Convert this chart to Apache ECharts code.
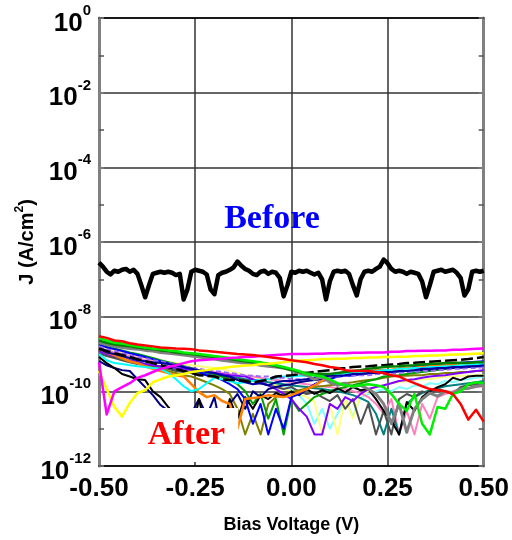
<!DOCTYPE html>
<html><head><meta charset="utf-8">
<script src="https://cdn.jsdelivr.net/npm/echarts@6/dist/echarts.min.js"></script>
<style>html,body{margin:0;padding:0;background:#fff}#c{width:512px;height:540px}</style>
</head><body><div id="c"></div>
<script>
// ---------- data ----------
const voltageBefore = [-0.50,-0.49,-0.48,-0.47,-0.46,-0.45,-0.44,-0.43,-0.42,-0.41,
-0.40,-0.39,-0.38,-0.37,-0.36,-0.35,-0.34,-0.33,-0.32,-0.31,
-0.30,-0.29,-0.28,-0.27,-0.26,-0.25,-0.24,-0.23,-0.22,-0.21,
-0.20,-0.19,-0.18,-0.17,-0.16,-0.15,-0.14,-0.13,-0.12,-0.11,
-0.10,-0.09,-0.08,-0.07,-0.06,-0.05,-0.04,-0.03,-0.02,-0.01,
0.00,0.01,0.02,0.03,0.04,0.05,0.06,0.07,0.08,0.09,
0.10,0.11,0.12,0.13,0.14,0.15,0.16,0.17,0.18,0.19,
0.20,0.21,0.22,0.23,0.24,0.25,0.26,0.27,0.28,0.29,
0.30,0.31,0.32,0.33,0.34,0.35,0.36,0.37,0.38,0.39,
0.40,0.41,0.42,0.43,0.44,0.45,0.46,0.47,0.48,0.49,
0.50];
const jBefore = [2.8e-7,2.2e-7,1.6e-7,1.35e-7,1.7e-7,1.6e-7,1.8e-7,1.9e-7,1.6e-7,1.8e-7,
1.4e-7,7e-8,3.3e-8,7e-8,1.4e-7,1.5e-7,1.6e-7,1.5e-7,1.6e-7,1.5e-7,
1.3e-7,1.4e-7,2.9e-8,5.4e-8,1.6e-7,1.8e-7,1.7e-7,1.6e-7,1.35e-7,5.4e-8,
4e-8,1.3e-7,1.5e-7,1.6e-7,1.8e-7,2.1e-7,3.0e-7,2.3e-7,1.9e-7,1.7e-7,
1.4e-7,1.3e-7,1.6e-7,1.7e-7,1.4e-7,1.6e-7,1.5e-7,1.1e-7,3.5e-8,7e-8,
1.6e-7,1.5e-7,1.7e-7,1.6e-7,1.7e-7,1.5e-7,1.35e-7,1.5e-7,1.0e-7,2.9e-8,
8.8e-8,1.6e-7,1.7e-7,1.6e-7,1.7e-7,1.4e-7,7e-8,3.7e-8,1.0e-7,1.6e-7,
1.7e-7,1.6e-7,1.9e-7,2.2e-7,3.4e-7,2.7e-7,1.9e-7,1.6e-7,1.7e-7,1.6e-7,
1.4e-7,1.6e-7,1.5e-7,1.4e-7,8.8e-8,3.3e-8,7e-8,1.6e-7,1.7e-7,1.8e-7,
1.6e-7,1.7e-7,1.8e-7,1.5e-7,1.1e-7,3.7e-8,5.4e-8,1.6e-7,1.7e-7,1.6e-7,
1.7e-7];

const voltageAfter = [-0.50,-0.48,-0.46,-0.44,-0.42,-0.40,-0.38,-0.36,-0.34,-0.32,
-0.30,-0.28,-0.26,-0.24,-0.22,-0.20,-0.18,-0.16,-0.14,-0.12,
-0.10,-0.08,-0.06,-0.04,-0.02,0.00,0.02,0.04,0.06,0.08,
0.10,0.12,0.14,0.16,0.18,0.20,0.22,0.24,0.26,0.28,
0.30,0.32,0.34,0.36,0.38,0.40,0.42,0.44,0.46,0.48,0.50];

const jRed = [3.0e-9,2.7e-9,2.3e-9,2.2e-9,1.95e-9,1.8e-9,1.7e-9,1.6e-9,1.5e-9,1.45e-9,
1.4e-9,1.38e-9,1.35e-9,1.25e-9,1.2e-9,1.15e-9,1.1e-9,1.05e-9,1.0e-9,9.7e-10,
9.4e-10,8.8e-10,8.3e-10,7.8e-10,7.3e-10,6.8e-10,6.4e-10,6.0e-10,5.4e-10,5.0e-10,
4.5e-10,4.2e-10,3.7e-10,3.5e-10,3.5e-10,3.5e-10,3.3e-10,3.1e-10,2.7e-10,2.5e-10,
2.0e-10,1.65e-10,1.37e-10,1.15e-10,1.07e-10,1.0e-10,8.5e-11,4.6e-11,1.75e-11,3.2e-11,
1.55e-11];
const jMagenta = [6.0e-10,2.4e-11,1.0e-10,1.3e-10,1.65e-10,2.3e-10,2.7e-10,3.3e-10,4.0e-10,4.5e-10,
5.0e-10,5.7e-10,6.4e-10,6.8e-10,7.0e-10,7.3e-10,7.5e-10,7.8e-10,8.0e-10,8.3e-10,
8.5e-10,8.8e-10,9.1e-10,9.4e-10,9.7e-10,1.0e-9,1.0e-9,1.0e-9,1.02e-9,1.02e-9,
1.05e-9,1.05e-9,1.05e-9,1.08e-9,1.08e-9,1.1e-9,1.1e-9,1.1e-9,1.15e-9,1.15e-9,
1.2e-9,1.2e-9,1.22e-9,1.22e-9,1.25e-9,1.25e-9,1.3e-9,1.3e-9,1.35e-9,1.38e-9,
1.4e-9];
const jYellow = [3.5e-10,1.15e-10,3.8e-11,2.1e-11,4.9e-11,9.0e-11,1.07e-10,1.75e-10,2.1e-10,2.5e-10,
2.7e-10,2.9e-10,3.3e-10,3.5e-10,3.7e-10,4.0e-10,4.2e-10,4.5e-10,4.7e-10,4.9e-10,
5.0e-10,5.4e-10,5.5e-10,5.7e-10,6.0e-10,6.4e-10,6.6e-10,6.8e-10,7.0e-10,7.3e-10,
7.3e-10,7.5e-10,7.5e-10,7.8e-10,7.8e-10,8.0e-10,8.0e-10,8.3e-10,8.3e-10,8.5e-10,
8.5e-10,8.8e-10,8.8e-10,9.1e-10,9.1e-10,9.4e-10,9.7e-10,9.7e-10,1.0e-9,1.02e-9,
1.05e-9];
const jGreen = [2.7e-9,2.3e-9,2.0e-9,1.9e-9,1.75e-9,1.6e-9,1.5e-9,1.4e-9,1.35e-9,1.25e-9,
1.2e-9,1.1e-9,1.05e-9,1.0e-9,9.4e-10,8.8e-10,8.3e-10,7.8e-10,7.3e-10,6.8e-10,
6.4e-10,6.0e-10,5.4e-10,5.0e-10,4.5e-10,4.0e-10,3.5e-10,2.9e-10,2.7e-10,2.5e-10,
2.1e-10,1.65e-10,1.45e-10,1.37e-10,1.45e-10,1.55e-10,1.45e-10,1.3e-10,8.5e-11,4.6e-11,
3.0e-11,8.5e-11,1.35e-11,7e-12,3.8e-11,3.4e-11,8.5e-11,1.0e-10,1.55e-10,1.75e-10,
1.65e-10];
const jDarkGreen = [2.3e-9,2.0e-9,1.8e-9,1.7e-9,1.6e-9,1.5e-9,1.4e-9,1.35e-9,1.25e-9,1.2e-9,
1.1e-9,1.05e-9,1.0e-9,9.4e-10,8.8e-10,8.3e-10,7.8e-10,7.3e-10,6.8e-10,6.4e-10,
6.0e-10,5.7e-10,5.4e-10,4.7e-10,4.2e-10,3.7e-10,3.3e-10,3.1e-10,2.9e-10,2.9e-10,
2.9e-10,3.1e-10,3.3e-10,3.5e-10,3.7e-10,4.0e-10,4.2e-10,4.5e-10,4.6e-10,4.7e-10,
4.9e-10,5.0e-10,5.2e-10,5.4e-10,5.5e-10,5.7e-10,5.7e-10,5.8e-10,5.8e-10,6.0e-10,
6.0e-10];
const jGrey = [2.0e-9,1.8e-9,1.6e-9,1.5e-9,1.4e-9,1.35e-9,1.25e-9,1.2e-9,1.1e-9,1.05e-9,
1.0e-9,9.4e-10,8.8e-10,8.3e-10,7.8e-10,7.3e-10,6.8e-10,6.4e-10,6.0e-10,5.7e-10,
5.4e-10,5.0e-10,4.7e-10,4.5e-10,4.2e-10,3.7e-10,3.1e-10,2.7e-10,2.1e-10,2.5e-10,
1.75e-10,1.45e-10,1.65e-10,1.3e-10,1.45e-10,1.15e-10,8.5e-11,4.6e-11,1.35e-11,4.6e-11,
8e-12,3.4e-11,6.2e-11,9.0e-11,7.4e-11,1.0e-10,9.0e-11,1.15e-10,1.2e-10,1.37e-10,
1.45e-10];
const jBlackDash = [1.4e-9,1.2e-9,1.05e-9,9.4e-10,8.3e-10,7.3e-10,6.4e-10,5.7e-10,5.0e-10,4.5e-10,
4.0e-10,3.5e-10,3.1e-10,2.7e-10,2.6e-10,2.5e-10,2.1e-10,2.0e-10,2.0e-10,1.9e-10,
1.75e-10,1.9e-10,2.1e-10,2.5e-10,2.6e-10,2.7e-10,2.9e-10,3.1e-10,3.3e-10,3.5e-10,
3.7e-10,4.0e-10,4.2e-10,4.5e-10,4.6e-10,4.7e-10,4.9e-10,5.0e-10,5.2e-10,5.4e-10,
5.7e-10,5.8e-10,6.0e-10,6.2e-10,6.4e-10,6.6e-10,6.8e-10,7.0e-10,7.3e-10,7.8e-10,
8.3e-10];
const jBlackNoisy = [8.3e-10,5.7e-10,4.2e-10,2.9e-10,2.5e-10,2.1e-10,2.0e-10,1.0e-10,7.0e-11,3.8e-11,
2.2e-11,1.15e-11,7e-12,6.2e-11,7e-12,3.4e-11,1.0e-11,6.2e-11,1.85e-11,7.0e-11,
3.4e-11,7.9e-11,6.2e-11,9.0e-11,7.4e-11,1.0e-10,7.9e-11,1.15e-10,8.5e-11,1.07e-10,
9.0e-11,1.2e-10,9.5e-11,1.3e-10,1.07e-10,1.15e-10,6.2e-11,3.0e-11,1.65e-11,7e-12,
5.2e-11,3.0e-11,7.0e-11,1.0e-10,1.3e-10,1.55e-10,2.3e-10,2.0e-10,2.5e-10,2.6e-10,
2.6e-10];
const jNavyNoisy = [6.4e-10,5.0e-10,4.2e-10,3.7e-10,3.5e-10,2.1e-10,1.3e-10,7.9e-11,4.3e-11,3.0e-11,
2.1e-11,1.0e-11,2.5e-11,6.2e-11,2.2e-11,7.0e-11,7e-12,4.6e-11,8.5e-11,3.4e-11,
1.0e-10,7.0e-11,1.15e-10,1.3e-10,1.45e-10,1.55e-10,1.75e-10,1.9e-10,2.0e-10,2.1e-10,
2.3e-10,2.5e-10,2.6e-10,2.7e-10,2.9e-10,3.0e-10,3.1e-10,3.2e-10,3.3e-10,3.4e-10,
3.5e-10,3.6e-10,3.7e-10,3.8e-10,4.0e-10,4.1e-10,4.2e-10,4.3e-10,4.5e-10,4.6e-10,
4.7e-10];
const jNavySmooth = [1.35e-9,1.1e-9,1.0e-9,8.8e-10,7.8e-10,6.8e-10,6.4e-10,6.0e-10,5.7e-10,5.4e-10,
5.0e-10,4.5e-10,4.0e-10,3.7e-10,3.3e-10,3.1e-10,2.7e-10,2.5e-10,2.0e-10,1.75e-10,
1.55e-10,1.65e-10,1.45e-10,1.75e-10,1.9e-10,1.9e-10,2.0e-10,2.1e-10,2.3e-10,2.5e-10,
2.6e-10,2.6e-10,2.7e-10,2.9e-10,2.9e-10,3.1e-10,3.1e-10,3.3e-10,3.3e-10,3.5e-10,
3.5e-10,3.7e-10,4.0e-10,4.0e-10,4.2e-10,4.2e-10,4.5e-10,4.5e-10,4.7e-10,4.7e-10,
5.0e-10];
const jBlue = [1.8e-9,1.5e-9,1.35e-9,1.2e-9,1.05e-9,9.4e-10,8.3e-10,7.3e-10,6.4e-10,5.7e-10,
5.0e-10,4.5e-10,4.0e-10,3.3e-10,2.7e-10,2.5e-10,2.0e-10,1.55e-10,1.15e-10,6.2e-11,
1.35e-11,4.6e-11,7e-12,3.4e-11,1.0e-11,7.0e-11,8.5e-11,1.15e-10,1.55e-10,1.9e-10,
2.1e-10,2.5e-10,2.6e-10,2.7e-10,2.9e-10,3.1e-10,3.3e-10,3.5e-10,3.7e-10,4.0e-10,
4.2e-10,4.5e-10,4.7e-10,5.0e-10,5.4e-10,5.5e-10,5.7e-10,5.8e-10,6.0e-10,6.2e-10,
6.4e-10];
const jCyan = [1.0e-9,6.8e-10,5.7e-10,5.4e-10,5.0e-10,4.7e-10,4.5e-10,4.2e-10,4.0e-10,3.1e-10,
2.1e-10,1.37e-10,1.0e-10,1.15e-10,1.65e-10,2.3e-10,2.1e-10,1.9e-10,1.65e-10,1.75e-10,
1.9e-10,2.0e-10,2.1e-10,2.3e-10,2.5e-10,2.5e-10,2.6e-10,2.6e-10,2.7e-10,2.7e-10,
2.9e-10,2.9e-10,3.1e-10,3.1e-10,3.3e-10,3.3e-10,3.5e-10,3.7e-10,3.7e-10,4.0e-10,
4.0e-10,4.2e-10,4.2e-10,4.5e-10,4.5e-10,4.7e-10,4.7e-10,5.0e-10,5.0e-10,5.4e-10,
5.4e-10];
const jOrange = [1.35e-9,1.1e-9,9.4e-10,7.8e-10,6.4e-10,5.7e-10,4.7e-10,4.0e-10,3.5e-10,3.1e-10,
2.7e-10,2.5e-10,1.55e-10,9.5e-11,7.0e-11,7.9e-11,5.5e-11,4.6e-11,1.0e-11,6.2e-11,
6.6e-11,7.0e-11,7.9e-11,7.4e-11,7.0e-11,7.9e-11,9.5e-11,1.15e-10,1.45e-10,1.9e-10,
2.5e-10,2.9e-10,3.3e-10,3.5e-10,3.5e-10,3.5e-10,3.6e-10,3.7e-10,3.8e-10,4.0e-10,
4.2e-10,4.3e-10,4.5e-10,4.7e-10,4.9e-10,5.0e-10,5.2e-10,5.4e-10,5.5e-10,5.7e-10,
5.8e-10];
const jViolet = [1.2e-9,1.0e-9,8.8e-10,7.8e-10,6.8e-10,6.0e-10,5.4e-10,5.0e-10,4.7e-10,4.5e-10,
4.2e-10,4.0e-10,3.7e-10,3.5e-10,3.3e-10,3.1e-10,2.9e-10,2.7e-10,2.6e-10,2.5e-10,
2.1e-10,1.75e-10,1.45e-10,1.15e-10,8.5e-11,6.2e-11,3.4e-11,2.1e-11,7e-12,7e-12,
4.6e-11,3.4e-11,7.0e-11,5.5e-11,8.5e-11,1.15e-10,1.3e-10,1.45e-10,1.65e-10,1.9e-10,
2.0e-10,2.1e-10,2.3e-10,2.5e-10,2.6e-10,2.7e-10,2.9e-10,3.1e-10,3.3e-10,3.5e-10,
3.7e-10];
const jLilac = [1.6e-9,1.35e-9,1.2e-9,1.05e-9,9.4e-10,8.3e-10,7.8e-10,6.8e-10,6.4e-10,5.7e-10,
5.4e-10,4.7e-10,4.2e-10,4.0e-10,3.7e-10,3.5e-10,3.3e-10,3.1e-10,2.9e-10,2.7e-10,
2.6e-10,2.5e-10,2.5e-10,2.3e-10,2.3e-10,2.1e-10,2.1e-10,2.1e-10,2.3e-10,2.3e-10,
2.5e-10,2.5e-10,2.6e-10,2.6e-10,2.7e-10,2.7e-10,2.9e-10,2.9e-10,3.1e-10,3.1e-10,
3.3e-10,3.3e-10,3.5e-10,3.5e-10,3.7e-10,3.7e-10,4.0e-10,4.0e-10,4.2e-10,4.2e-10,
4.5e-10];
const jLightCyan = [1.1e-9,9.4e-10,8.3e-10,7.3e-10,6.4e-10,5.7e-10,5.4e-10,4.7e-10,4.5e-10,4.0e-10,
3.7e-10,3.5e-10,3.3e-10,3.1e-10,2.9e-10,2.7e-10,2.6e-10,2.5e-10,2.3e-10,2.1e-10,
2.0e-10,1.9e-10,1.75e-10,1.65e-10,1.45e-10,1.15e-10,7.9e-11,4.6e-11,1.35e-11,3.4e-11,
1.0e-11,2.5e-11,6.2e-11,2.1e-11,7.0e-11,8.5e-11,1.0e-10,1.15e-10,1.0e-10,1.3e-10,
1.15e-10,1.45e-10,1.37e-10,1.65e-10,1.55e-10,1.9e-10,1.75e-10,2.0e-10,2.1e-10,2.3e-10,
2.5e-10];
const jPaleYellow = [1.7e-9,1.4e-9,1.25e-9,1.1e-9,1.0e-9,8.8e-10,7.8e-10,7.3e-10,6.4e-10,6.0e-10,
5.7e-10,5.4e-10,5.0e-10,4.7e-10,4.5e-10,4.2e-10,4.0e-10,3.5e-10,3.1e-10,2.7e-10,
2.5e-10,2.1e-10,1.75e-10,1.45e-10,1.2e-10,1.0e-10,8.5e-11,7.0e-11,5.2e-11,7e-12,
4.6e-11,7e-12,6.2e-11,1.85e-11,7.9e-11,1.0e-10,1.3e-10,1.45e-10,1.65e-10,1.75e-10,
1.9e-10,2.0e-10,2.1e-10,2.1e-10,2.3e-10,2.5e-10,2.5e-10,2.6e-10,2.6e-10,2.7e-10,
2.7e-10];
const jPink = [1.5e-9,1.25e-9,1.1e-9,1.0e-9,8.8e-10,7.8e-10,6.8e-10,6.4e-10,5.7e-10,5.4e-10,
4.7e-10,4.5e-10,4.2e-10,3.7e-10,3.5e-10,3.3e-10,3.1e-10,2.9e-10,2.7e-10,2.6e-10,
2.5e-10,2.3e-10,2.1e-10,2.0e-10,1.9e-10,1.75e-10,1.65e-10,1.55e-10,1.45e-10,1.37e-10,
1.3e-10,1.2e-10,1.15e-10,1.0e-10,9.0e-11,7.0e-11,4.6e-11,2.5e-11,6.2e-11,7e-12,
3.0e-11,7e-12,4.6e-11,1.85e-11,7.0e-11,8.5e-11,1.0e-10,1.15e-10,1.2e-10,1.3e-10,
1.37e-10];
const jOlive = [1.25e-9,1.05e-9,8.8e-10,7.3e-10,6.4e-10,5.7e-10,5.0e-10,4.5e-10,4.0e-10,3.5e-10,
3.1e-10,2.7e-10,2.5e-10,2.1e-10,1.75e-10,1.45e-10,1.15e-10,8.5e-11,3.4e-11,7e-12,
2.5e-11,7e-12,4.6e-11,7.0e-11,8.5e-11,9.5e-11,1.07e-10,1.2e-10,1.3e-10,1.37e-10,
1.45e-10,1.55e-10,1.65e-10,1.75e-10,1.9e-10,2.0e-10,2.1e-10,2.3e-10,2.5e-10,2.6e-10,
2.6e-10,2.7e-10,2.7e-10,2.9e-10,2.9e-10,3.1e-10,3.1e-10,3.3e-10,3.3e-10,3.5e-10,
3.5e-10];
const jTeal = [1.2e-9,1.0e-9,8.8e-10,7.8e-10,6.8e-10,6.0e-10,5.4e-10,5.0e-10,4.5e-10,4.2e-10,
3.7e-10,3.5e-10,3.3e-10,3.1e-10,2.9e-10,2.7e-10,2.6e-10,2.5e-10,2.3e-10,2.1e-10,
2.0e-10,1.9e-10,1.75e-10,1.65e-10,1.55e-10,1.45e-10,1.37e-10,1.3e-10,1.2e-10,1.15e-10,
1.07e-10,1.0e-10,9.0e-11,7.9e-11,6.6e-11,5.2e-11,2.5e-11,7e-12,3.4e-11,7e-12,
4.6e-11,7.0e-11,9.0e-11,1.07e-10,1.2e-10,1.37e-10,1.45e-10,1.55e-10,1.65e-10,1.75e-10,
1.9e-10];
const jDarkGrey = [1.05e-9,8.8e-10,7.8e-10,6.8e-10,6.0e-10,5.4e-10,5.0e-10,4.5e-10,4.2e-10,4.0e-10,
3.5e-10,3.3e-10,3.1e-10,2.9e-10,2.7e-10,2.6e-10,2.5e-10,2.3e-10,2.1e-10,2.0e-10,
1.9e-10,1.65e-10,1.45e-10,1.3e-10,1.15e-10,1.3e-10,1.0e-10,8.5e-11,9.5e-11,7.0e-11,
5.5e-11,7.9e-11,3.4e-11,6.2e-11,1.35e-11,4.6e-11,7e-12,3.0e-11,7e-12,6.2e-11,
8.5e-11,7.0e-11,1.0e-10,8.5e-11,1.15e-10,1.0e-10,8.5e-11,1.3e-10,1.45e-10,1.55e-10,
1.65e-10];
const jGreen2 = [1.9e-9,1.6e-9,1.4e-9,1.25e-9,1.1e-9,1.0e-9,8.8e-10,7.8e-10,6.8e-10,6.0e-10,
5.4e-10,4.7e-10,4.2e-10,3.7e-10,3.3e-10,2.9e-10,2.5e-10,2.0e-10,1.55e-10,1.0e-10,
4.6e-11,8.5e-11,1.85e-11,6.2e-11,7e-12,6.2e-11,3.0e-11,4.6e-11,7.0e-11,8.5e-11,
1.0e-10,1.15e-10,1.3e-10,1.45e-10,1.65e-10,1.9e-10,2.1e-10,2.5e-10,2.6e-10,2.7e-10,
2.9e-10,3.1e-10,3.3e-10,3.5e-10,3.7e-10,4.0e-10,4.2e-10,4.5e-10,4.7e-10,5.0e-10,
5.4e-10];

const xTicks = [-0.50, -0.25, 0.00, 0.25, 0.50];
const labelBefore = 'Before';
const labelAfter = 'After';

// ---------- styles (draw order: first = bottom) ----------
const afterSeries = [
  {data: jLightCyan,  color: '#80FFFF', width: 2},
  {data: jPaleYellow, color: '#FFFF80', width: 2},
  {data: jPink,       color: '#FF80C0', width: 2},
  {data: jTeal,       color: '#008080', width: 2},
  {data: jDarkGrey,   color: '#505050', width: 2},
  {data: jOlive,      color: '#808000', width: 2},
  {data: jGreen2,     color: '#00A000', width: 2},
  {data: jViolet,     color: '#8000FF', width: 2},
  {data: jNavyNoisy,  color: '#000080', width: 2},
  {data: jBlackNoisy, color: '#000000', width: 2},
  {data: jBlue,       color: '#0000FF', width: 2},
  {data: jOrange,     color: '#FF8000', width: 2.5},
  {data: jCyan,       color: '#00FFFF', width: 2},
  {data: jLilac,      color: '#9966FF', width: 2, type: [5, 3]},
  {data: jNavySmooth, color: '#0000A0', width: 2},
  {data: jBlackDash,  color: '#000000', width: 2.5, type: [12, 4]},
  {data: jGrey,       color: '#808080', width: 3},
  {data: jDarkGreen,  color: '#008000', width: 2.5},
  {data: jGreen,      color: '#00EE00', width: 2.5},
  {data: jYellow,     color: '#FFFF00', width: 2.5},
  {data: jMagenta,    color: '#FF00FF', width: 2.5},
  {data: jRed,        color: '#FF0000', width: 2.5}
];

const FONT = '"Liberation Sans", Arial, sans-serif';
const SERIF = '"Liberation Serif", "Times New Roman", serif';
const toPairs = (vs, js) => vs.map((v, i) => [v, Math.log10(js[i])]);

const series = afterSeries.map(s => ({
  type: 'line', data: toPairs(voltageAfter, s.data), symbol: 'none', silent: true,
  lineStyle: {color: s.color, width: s.width, type: s.type || 'solid', join: 'round'},
  itemStyle: {color: s.color}, animation: false, clip: true
}));
series.push({
  type: 'line', data: toPairs(voltageBefore, jBefore), symbol: 'none', silent: true,
  lineStyle: {color: '#000', width: 4.5, join: 'round'}, itemStyle: {color: '#000'},
  animation: false, clip: true
});

const chart = echarts.init(document.getElementById('c'), null, {renderer: 'canvas'});
chart.setOption({
  animation: false,
  backgroundColor: '#fff',
  grid: {left: 99, right: 28, top: 18, bottom: 74, containLabel: false},
  xAxis: [{
    type: 'value', min: xTicks[0], max: xTicks[xTicks.length - 1], interval: 0.25, position: 'bottom',
    axisLine: {show: true, onZero: false, lineStyle: {color: '#000', width: 1.5}},
    axisTick: {show: false},
    axisLabel: {formatter: v => v.toFixed(2), fontSize: 26, fontWeight: 'bold', fontFamily: FONT, color: '#000', margin: 10,
                showMinLabel: true, showMaxLabel: true},
    splitLine: {show: true, lineStyle: {color: '#333', width: 1.5}},
    name: 'Bias Voltage (V)', nameLocation: 'middle', nameGap: 50, nameMoveOverlap: false,
    nameTextStyle: {fontSize: 18, fontWeight: 'bold', fontFamily: FONT, color: '#000'}
  }, {
    type: 'value', min: xTicks[0], max: xTicks[xTicks.length - 1], interval: 0.25, position: 'top',
    axisLine: {show: true, onZero: false, lineStyle: {color: '#000', width: 1.5}},
    axisTick: {show: false}, axisLabel: {show: false}, splitLine: {show: false}
  }],
  yAxis: [{
    type: 'value', min: -12, max: 0, interval: 2, position: 'left',
    axisLine: {show: true, onZero: false, lineStyle: {color: '#808080', width: 3}},
    axisTick: {show: true, inside: true, length: 5, lineStyle: {color: '#808080', width: 1.5}},
    minorTick: {show: true, splitNumber: 2, length: 5, lineStyle: {color: '#555', width: 1.5}},
    axisLabel: {
      formatter: v => '{b|10}{s|' + Math.round(v) + '}', margin: 8, padding: [11, 0, 0, 0],
      rich: {
        b: {fontSize: 26, fontWeight: 'bold', fontFamily: FONT, color: '#000', lineHeight: 40},
        s: {fontSize: 15, fontWeight: 'bold', fontFamily: FONT, color: '#000', verticalAlign: 'top', lineHeight: 15}
      }
    },
    splitLine: {show: true, lineStyle: {color: '#333', width: 1.5}},
    name: '{t|J (A/cm}{s|2}{t|)}', nameLocation: 'middle', nameGap: 59, nameRotate: 90, nameMoveOverlap: false,
    nameTextStyle: {
      rich: {
        t: {fontSize: 20, fontWeight: 'bold', fontFamily: FONT, color: '#000', lineHeight: 26},
        s: {fontSize: 12, fontWeight: 'bold', fontFamily: FONT, color: '#000', verticalAlign: 'top', lineHeight: 12}
      }
    }
  }, {
    type: 'value', min: -12, max: 0, interval: 2, position: 'right',
    axisLine: {show: true, onZero: false, lineStyle: {color: '#808080', width: 3}},
    axisTick: {show: true, inside: true, length: 5, lineStyle: {color: '#808080', width: 1.5}},
    minorTick: {show: true, splitNumber: 2, length: 5, lineStyle: {color: '#555', width: 1.5}},
    axisLabel: {show: false}, splitLine: {show: false}
  }],
  graphic: [
    {type: 'text', x: 272, y: 219, z: 100,
     style: {text: labelBefore, font: 'bold 34px ' + SERIF, fill: '#0000FF',
             align: 'center', verticalAlign: 'middle', textAlign: 'center', textVerticalAlign: 'middle'}},
    {type: 'text', x: 190.5, y: 435, z: 100,
     style: {text: labelAfter, font: 'bold 34px ' + SERIF, fill: '#FF0000', backgroundColor: '#fff',
             padding: [12, 13, 8, 5],
             align: 'center', verticalAlign: 'middle', textAlign: 'center', textVerticalAlign: 'middle'}}
  ],
  series: series
});
</script></body></html>
